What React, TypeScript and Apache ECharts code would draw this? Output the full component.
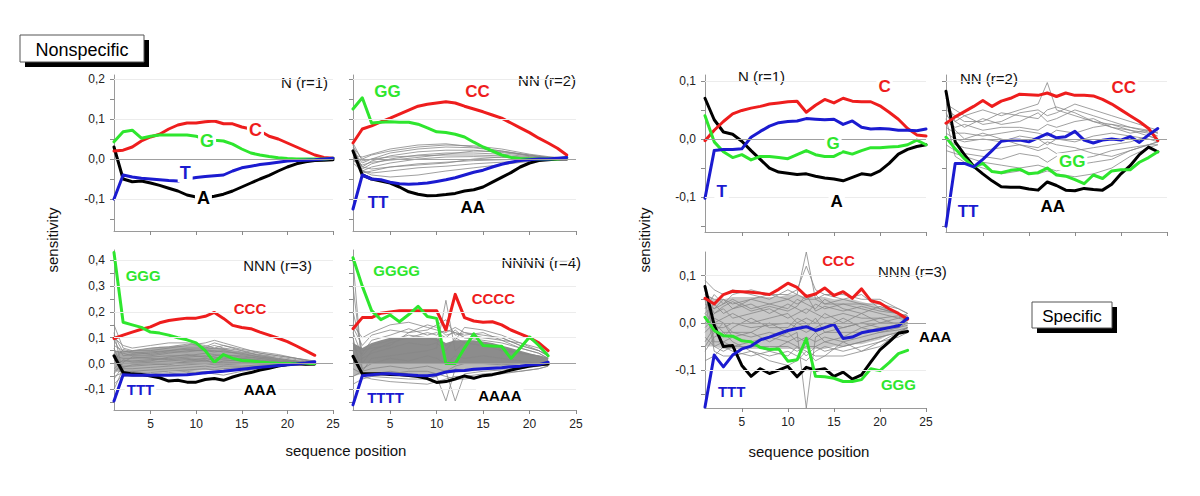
import React, { useEffect, useRef } from 'react';
import * as echarts from 'echarts';

// ---------------- DATA ----------------
// Nonspecific, N (r=1), positions 1..25
const LN_C = [0.02,0.022,0.03,0.045,0.055,0.062,0.075,0.085,0.09,0.09,0.093,0.095,0.088,0.088,0.08,0.075,0.07,0.057,0.05,0.04,0.03,0.02,0.01,0.004,0.002];
const LN_G = [0.043,0.068,0.072,0.052,0.057,0.06,0.06,0.06,0.06,0.057,0.05,0.047,0.045,0.037,0.025,0.015,0.01,0.006,0.003,0.001,0,0,0,0,0.002];
const LN_T = [-0.1,-0.04,-0.045,-0.048,-0.05,-0.052,-0.054,-0.055,-0.05,-0.046,-0.044,-0.042,-0.04,-0.03,-0.022,-0.018,-0.014,-0.011,-0.008,-0.005,-0.004,-0.003,-0.002,0,0.002];
const LN_A = [0.03,-0.05,-0.057,-0.055,-0.06,-0.066,-0.073,-0.08,-0.09,-0.095,-0.097,-0.093,-0.088,-0.08,-0.07,-0.06,-0.05,-0.041,-0.03,-0.02,-0.012,-0.007,-0.004,-0.003,-0.002];

// Nonspecific, NN (r=2), positions 1..24
const LNN_C = [0.04,0.075,0.083,0.093,0.102,0.112,0.122,0.132,0.137,0.14,0.143,0.14,0.132,0.125,0.118,0.11,0.102,0.09,0.078,0.066,0.052,0.04,0.027,0.01];
const LNN_G = [0.125,0.153,0.09,0.092,0.093,0.092,0.092,0.087,0.078,0.068,0.066,0.062,0.055,0.042,0.03,0.02,0.01,0.004,0.001,0,0,0,0,0.003];
const LNN_T = [-0.125,-0.04,-0.05,-0.052,-0.058,-0.062,-0.063,-0.062,-0.06,-0.056,-0.052,-0.047,-0.04,-0.033,-0.028,-0.02,-0.013,-0.008,-0.004,-0.002,0,0,0.002,0.004];
const LNN_A = [0.02,-0.04,-0.05,-0.055,-0.06,-0.07,-0.082,-0.088,-0.092,-0.091,-0.089,-0.086,-0.08,-0.077,-0.07,-0.058,-0.046,-0.034,-0.02,-0.01,-0.004,-0.002,0,0];
const LNN_GRAY_X = [1,2,3,5,8,11,14,17,20,22,24];
const LNN_GRAY = [
  [0.03,0.0,0.01,0.02,0.03,0.035,0.033,0.025,0.012,0.006,0.002],
  [0.02,-0.01,0.0,0.015,0.025,0.03,0.028,0.02,0.01,0.004,0.002],
  [0.01,-0.02,-0.005,0.008,0.018,0.022,0.022,0.016,0.008,0.003,0.001],
  [0.0,-0.025,-0.012,0.0,0.01,0.015,0.015,0.012,0.006,0.002,0.001],
  [0.04,-0.005,0.0,0.005,0.008,0.01,0.01,0.008,0.004,0.002,0],
  [-0.01,-0.03,-0.02,-0.01,0.0,0.005,0.006,0.004,0.002,0.001,0],
  [0.005,-0.035,-0.03,-0.02,-0.012,-0.008,-0.004,-0.002,0,0,0],
  [0.015,-0.03,-0.035,-0.03,-0.022,-0.018,-0.012,-0.008,-0.004,-0.002,0],
  [0.025,-0.02,-0.025,-0.02,-0.015,-0.01,0.0,0.005,0.004,0.002,0],
  [-0.005,-0.015,-0.008,-0.003,0.004,0.012,0.02,0.018,0.01,0.004,0.001],
  [0.035,-0.03,-0.04,-0.045,-0.04,-0.03,-0.022,-0.014,-0.006,-0.003,-0.001],
  [0.01,0.005,0.012,0.025,0.035,0.038,0.03,0.02,0.008,0.004,0.002],
];

// Nonspecific, NNN (r=3), positions 1..23
const LN3_C = [0.097,0.11,0.122,0.133,0.142,0.158,0.167,0.172,0.176,0.176,0.183,0.198,0.175,0.148,0.14,0.135,0.122,0.11,0.098,0.085,0.068,0.05,0.032];
const LN3_G = [0.43,0.16,0.15,0.14,0.122,0.118,0.11,0.1,0.092,0.08,0.05,0.005,0.035,0.02,0.012,0.01,0.006,0.003,0.001,0,0,0,0];
const LN3_T = [-0.145,-0.043,-0.045,-0.045,-0.045,-0.045,-0.045,-0.044,-0.043,-0.04,-0.036,-0.033,-0.03,-0.026,-0.022,-0.018,-0.014,-0.011,-0.008,-0.005,-0.002,0.002,0.007];
const LN3_A = [0.03,-0.035,-0.04,-0.042,-0.048,-0.055,-0.068,-0.065,-0.072,-0.072,-0.062,-0.058,-0.065,-0.052,-0.042,-0.035,-0.025,-0.018,-0.01,-0.004,0,-0.003,-0.002];
const LN3_BAND_UPPER = [0.05,0.05,0.05,0.055,0.06,0.065,0.065,0.07,0.07,0.07,0.065,0.06,0.06,0.05,0.045,0.04,0.035,0.03,0.02,0.015,0.01,0.008,0.005];
const LN3_BAND_LOWER = [-0.03,-0.035,-0.035,-0.035,-0.035,-0.035,-0.03,-0.03,-0.03,-0.028,-0.025,-0.025,-0.022,-0.02,-0.018,-0.015,-0.012,-0.01,-0.008,-0.006,-0.004,-0.003,-0.002];
const LN3_GRAY_X = [1,2,3,5,7,9,11,12,13,15,17,19,21,23];
const LN3_GRAY = [
  [0.15,0.06,0.05,0.05,0.06,0.07,0.08,0.09,0.08,0.06,0.04,0.03,0.02,0.01],
  [0.1,0.07,0.06,0.07,0.08,0.08,0.07,0.06,0.07,0.05,0.04,0.03,0.02,0.005],
  [0.07,0.05,0.04,0.045,0.05,0.06,0.06,0.07,0.06,0.05,0.03,0.02,0.01,0.0],
  [0.05,0.04,0.03,0.03,0.04,0.05,0.05,0.05,0.045,0.04,0.025,0.015,0.01,0.0],
  [0.03,0.02,0.02,0.025,0.03,0.03,0.04,0.035,0.03,0.03,0.02,0.01,0.005,0.0],
  [0.0,0.01,0.01,0.015,0.02,0.025,0.03,0.025,0.02,0.02,0.015,0.01,0.005,-0.005],
  [-0.03,0.0,0.0,0.005,0.01,0.015,0.02,0.015,0.015,0.01,0.01,0.005,0.0,0.0],
  [-0.06,-0.01,-0.01,-0.005,0.0,0.005,0.01,0.005,0.005,0.005,0.005,0.0,0.0,-0.005],
  [-0.1,-0.02,-0.02,-0.015,-0.01,-0.005,0.0,-0.005,-0.005,0.0,0.0,-0.005,-0.005,-0.005],
  [0.06,-0.03,-0.03,-0.025,-0.02,-0.015,-0.01,-0.015,-0.01,-0.01,-0.005,-0.005,0.0,0.0],
  [0.12,-0.04,-0.04,-0.035,-0.03,-0.025,-0.02,-0.025,-0.02,-0.015,-0.01,-0.008,-0.005,0.0],
  [0.02,-0.05,-0.045,-0.045,-0.04,-0.035,-0.03,-0.03,-0.025,-0.02,-0.015,-0.01,-0.005,-0.005],
  [0.09,0.03,0.035,0.04,0.05,0.055,0.05,0.045,0.05,0.035,0.025,0.02,0.01,0.005],
  [-0.02,0.015,0.005,0.01,0.025,0.035,0.025,0.03,0.035,0.025,0.02,0.015,0.005,0.0],
  [0.04,-0.015,-0.005,0.0,-0.005,0.01,0.015,0.0,0.01,0.015,0.008,0.004,0.0,0.0],
  [-0.05,-0.035,-0.03,-0.04,-0.035,-0.03,-0.04,-0.035,-0.03,-0.025,-0.018,-0.012,-0.006,-0.003],
  [0.11,0.045,0.05,0.06,0.065,0.075,0.065,0.08,0.07,0.055,0.045,0.035,0.02,0.008],
  [-0.08,-0.045,-0.05,-0.05,-0.045,-0.04,-0.035,-0.04,-0.045,-0.03,-0.02,-0.01,-0.005,0.0],
  [0.01,0.055,0.045,0.035,0.045,0.045,0.055,0.06,0.055,0.045,0.035,0.025,0.015,0.005],
  [-0.04,0.005,0.025,0.02,0.015,0.02,0.01,0.02,0.025,0.02,0.012,0.008,0.004,0.0],
];

// Nonspecific, NNNN (r=4), positions 1..22
const LN4_C = [0.135,0.178,0.178,0.195,0.2,0.205,0.205,0.205,0.205,0.205,0.13,0.268,0.178,0.165,0.16,0.162,0.15,0.13,0.115,0.1,0.08,0.05];
const LN4_G = [0.41,0.3,0.205,0.17,0.188,0.162,0.19,0.222,0.182,0.175,0.0,0.0,0.06,0.115,0.07,0.068,0.067,0.02,0.06,0.103,0.07,0.03];
const LN4_T = [-0.16,-0.047,-0.043,-0.04,-0.04,-0.042,-0.044,-0.046,-0.047,-0.043,-0.033,-0.028,-0.027,-0.022,-0.02,-0.018,-0.016,-0.012,-0.01,-0.006,-0.004,0.005];
const LN4_A = [0.028,-0.04,-0.04,-0.04,-0.042,-0.043,-0.046,-0.05,-0.058,-0.073,-0.07,-0.06,-0.048,-0.057,-0.047,-0.043,-0.035,-0.025,-0.017,-0.01,-0.005,-0.002];
const LN4_BAND_UPPER = [0.08,0.06,0.08,0.09,0.1,0.1,0.1,0.1,0.1,0.1,0.08,0.09,0.09,0.09,0.085,0.08,0.07,0.06,0.05,0.04,0.03,0.02];
const LN4_BAND_LOWER = [-0.05,-0.04,-0.04,-0.04,-0.04,-0.04,-0.042,-0.044,-0.045,-0.045,-0.04,-0.035,-0.03,-0.03,-0.025,-0.022,-0.02,-0.018,-0.015,-0.012,-0.01,-0.008];
const LN4_GRAY_X = [1,2,3,5,7,9,10,11,12,13,15,17,19,21,22];
const LN4_GRAY = [
  [0.40,-0.03,0.02,0.03,0.04,0.05,0.06,0.245,0.05,0.08,0.07,0.06,0.04,0.03,0.02],
  [0.30,0.0,0.05,0.08,0.1,0.12,0.11,0.13,0.12,0.1,0.09,0.08,0.06,0.04,0.02],
  [0.15,0.1,0.12,0.15,0.16,0.14,0.13,0.12,0.14,0.12,0.11,0.1,0.07,0.05,0.03],
  [0.05,-0.05,-0.04,-0.03,-0.04,-0.05,-0.05,-0.145,-0.02,-0.03,-0.02,-0.02,-0.01,-0.01,0],
  [-0.02,-0.04,-0.05,-0.055,-0.06,-0.06,-0.05,-0.03,-0.145,-0.04,-0.03,-0.025,-0.02,-0.01,-0.005],
  [0.1,-0.05,-0.06,-0.07,-0.075,-0.08,-0.07,-0.06,-0.05,-0.05,-0.04,-0.035,-0.03,-0.02,-0.01],
  [0.2,0.05,0.06,0.07,0.12,0.13,0.15,0.17,0.11,0.12,0.1,0.09,0.06,0.04,0.02],
  [-0.08,-0.06,-0.05,-0.04,-0.03,-0.03,-0.04,-0.05,-0.06,-0.06,-0.05,-0.04,-0.03,-0.02,-0.01],
  [0.12,0.03,0.07,0.09,0.11,0.1,0.09,0.07,0.09,0.14,0.13,0.11,0.08,0.05,0.03],
  [0.0,0.02,0.04,0.06,0.08,0.07,0.08,0.05,0.1,0.08,0.07,0.05,0.04,0.03,0.02],
  [0.08,-0.02,0.0,0.02,0.01,0.03,0.02,0.0,0.03,0.02,0.03,0.02,0.01,0.0,0.0],
  [-0.05,-0.03,-0.02,-0.01,-0.02,-0.01,-0.02,-0.03,-0.01,0.0,0.0,-0.005,0.0,0.0,0.0],
  [0.14,0.07,0.11,0.13,0.12,0.15,0.14,0.11,0.12,0.11,0.12,0.09,0.08,0.06,0.04],
  [0.06,0.04,0.09,0.11,0.135,0.11,0.12,0.1,0.13,0.1,0.1,0.1,0.07,0.05,0.03],
];

// Specific, N (r=1), positions 1..25
const RN_C = [-0.003,0.015,0.03,0.043,0.049,0.053,0.056,0.06,0.062,0.064,0.065,0.046,0.058,0.068,0.062,0.07,0.065,0.064,0.064,0.057,0.046,0.034,0.018,0.007,0.005];
const RN_T = [-0.102,-0.02,-0.018,-0.018,-0.017,0.003,0.013,0.022,0.028,0.03,0.031,0.035,0.034,0.033,0.034,0.025,0.031,0.02,0.017,0.018,0.017,0.015,0.015,0.014,0.017];
const RN_G = [0.04,-0.005,-0.022,-0.032,-0.027,-0.036,-0.03,-0.03,-0.032,-0.034,-0.027,-0.02,-0.027,-0.03,-0.03,-0.022,-0.026,-0.02,-0.015,-0.015,-0.014,-0.013,-0.01,-0.002,-0.01];
const RN_A = [0.07,0.033,0.012,0.008,-0.004,-0.02,-0.035,-0.05,-0.057,-0.059,-0.061,-0.06,-0.064,-0.067,-0.069,-0.072,-0.066,-0.06,-0.062,-0.055,-0.042,-0.026,-0.018,-0.013,-0.01];

// Specific, NN (r=2), positions 1..24
const RNN_C = [0.027,0.038,0.047,0.056,0.066,0.056,0.065,0.07,0.077,0.076,0.075,0.079,0.073,0.079,0.075,0.075,0.074,0.068,0.06,0.05,0.04,0.03,0.018,-0.003];
const RNN_T = [-0.15,-0.042,-0.042,-0.048,-0.035,-0.02,-0.004,-0.002,-0.002,-0.005,0.002,0.009,0.002,0.004,0.013,-0.002,-0.007,-0.002,0,-0.002,0.004,-0.006,0.007,0.018];
const RNN_G = [0.003,-0.017,-0.034,-0.048,-0.042,-0.056,-0.058,-0.054,-0.052,-0.06,-0.058,-0.05,-0.062,-0.064,-0.07,-0.077,-0.062,-0.068,-0.055,-0.053,-0.053,-0.04,-0.032,-0.022];
const RNN_A = [0.082,-0.005,-0.027,-0.047,-0.06,-0.072,-0.082,-0.083,-0.083,-0.086,-0.088,-0.074,-0.08,-0.088,-0.089,-0.085,-0.087,-0.088,-0.078,-0.06,-0.046,-0.027,-0.014,-0.022];
const RNN_GRAY_X = [1,2,3,5,7,9,11,12,13,15,17,19,21,23,24];
const RNN_GRAY = [
  [0.06,0.05,0.04,0.05,0.04,0.05,0.06,0.097,0.05,0.04,0.03,0.025,0.02,0.015,0.01],
  [0.05,0.04,0.03,0.03,0.045,0.04,0.035,0.05,0.055,0.045,0.03,0.02,0.015,0.01,0.012],
  [0.04,0.03,0.02,0.035,0.025,0.03,0.045,0.03,0.035,0.05,0.04,0.03,0.02,0.012,0.005],
  [0.03,0.02,0.025,0.015,0.02,0.02,0.015,0.025,0.02,0.03,0.035,0.02,0.01,0.015,0.01],
  [0.02,0.01,0.01,0.005,0.01,0.015,0.01,0.005,0.015,0.01,0.02,0.025,0.015,0.005,0.0],
  [0.01,0.0,-0.005,0.0,-0.005,0.005,0.0,-0.01,0.0,-0.005,0.005,0.01,0.005,0.0,-0.005],
  [0.0,-0.01,-0.015,-0.02,-0.015,-0.01,-0.02,-0.015,-0.025,-0.02,-0.015,-0.01,-0.005,0.005,0.0],
  [-0.01,-0.02,-0.025,-0.03,-0.035,-0.025,-0.03,-0.04,-0.03,-0.035,-0.03,-0.02,-0.015,-0.01,-0.005],
  [-0.02,-0.025,-0.03,-0.04,-0.045,-0.05,-0.045,-0.05,-0.055,-0.045,-0.04,-0.035,-0.02,-0.01,-0.01],
  [0.07,0.03,0.04,0.025,0.03,0.045,0.05,0.04,0.045,0.06,0.05,0.04,0.03,0.02,0.015],
  [0.045,0.015,0.0,0.01,0.0,-0.01,-0.015,-0.005,-0.01,-0.015,-0.025,-0.03,-0.02,-0.01,-0.005],
  [0.035,-0.03,-0.04,-0.05,-0.06,-0.055,-0.06,-0.055,-0.06,-0.065,-0.06,-0.05,-0.03,-0.015,-0.01],
];

// Specific, NNN (r=3), positions 1..23
const RN3_C = [0.052,0.04,0.06,0.067,0.066,0.065,0.063,0.06,0.071,0.084,0.075,0.056,0.061,0.074,0.058,0.066,0.052,0.072,0.047,0.042,0.03,0.02,0.008];
const RN3_T = [-0.178,-0.068,-0.093,-0.068,-0.055,-0.049,-0.036,-0.03,-0.023,-0.016,-0.012,-0.008,-0.016,-0.01,-0.003,-0.033,-0.03,-0.021,-0.017,-0.014,-0.01,-0.006,0.01];
const RN3_A = [0.077,-0.005,-0.05,-0.048,-0.09,-0.113,-0.097,-0.107,-0.1,-0.092,-0.114,-0.094,-0.1,-0.097,-0.113,-0.104,-0.119,-0.11,-0.083,-0.057,-0.04,-0.022,-0.018];
const RN3_G = [0.012,-0.016,-0.027,-0.028,-0.038,-0.04,-0.052,-0.056,-0.055,-0.081,-0.078,-0.033,-0.113,-0.114,-0.117,-0.124,-0.124,-0.12,-0.097,-0.101,-0.084,-0.065,-0.058];
const RN3_BAND_UPPER = [0.06,0.05,0.05,0.055,0.055,0.055,0.055,0.055,0.055,0.06,0.06,0.055,0.055,0.055,0.05,0.05,0.05,0.045,0.04,0.035,0.03,0.02,0.015];
const RN3_BAND_LOWER = [-0.05,-0.05,-0.055,-0.055,-0.055,-0.055,-0.055,-0.055,-0.055,-0.055,-0.055,-0.055,-0.055,-0.055,-0.05,-0.05,-0.045,-0.045,-0.04,-0.035,-0.025,-0.02,-0.015];
const RN3_GRAY_X = [1,2,3,4,6,8,10,11,12,13,14,16,18,20,22,23];
const RN3_GRAY = [
  [0.09,0.07,0.06,0.07,0.06,0.05,0.07,0.06,0.15,0.05,0.06,0.05,0.04,0.04,0.03,0.02],
  [0.06,0.05,0.05,0.04,0.05,0.06,0.05,0.04,0.05,0.06,0.04,0.05,0.06,0.03,0.02,0.015],
  [0.04,0.03,0.04,0.05,0.03,0.04,0.03,0.05,0.04,0.03,0.05,0.03,0.02,0.035,0.02,0.01],
  [0.02,0.04,0.02,0.03,0.04,0.02,0.04,0.03,0.02,0.04,0.03,0.04,0.03,0.02,0.01,0.02],
  [0.0,0.02,0.03,0.01,0.02,0.03,0.01,0.02,0.03,0.02,0.01,0.02,0.01,0.01,0.015,0.005],
  [-0.02,0.0,0.01,0.02,0.0,0.01,0.02,0.0,0.01,0.0,0.02,0.0,0.02,0.0,0.0,0.0],
  [-0.04,-0.01,-0.01,0.0,-0.01,-0.005,0.0,-0.01,-0.02,-0.01,0.0,-0.01,0.0,-0.01,-0.005,0.0],
  [-0.06,-0.03,-0.02,-0.02,-0.03,-0.02,-0.03,-0.02,-0.18,-0.03,-0.02,-0.02,-0.02,-0.01,-0.01,-0.005],
  [0.07,-0.04,-0.04,-0.03,-0.02,-0.04,-0.02,-0.04,-0.03,-0.04,-0.03,-0.04,-0.03,-0.02,-0.015,-0.01],
  [0.08,-0.05,-0.06,-0.05,-0.05,-0.05,-0.05,-0.06,-0.05,-0.05,-0.06,-0.05,-0.04,-0.03,-0.02,-0.01],
  [0.05,-0.06,-0.07,-0.07,-0.06,-0.07,-0.06,-0.07,-0.08,-0.06,-0.05,-0.06,-0.05,-0.04,-0.03,-0.02],
  [-0.08,-0.07,-0.05,-0.06,-0.07,-0.06,-0.07,-0.05,-0.06,-0.07,-0.07,-0.04,-0.06,-0.05,-0.02,-0.015],
  [0.03,0.06,0.04,0.06,0.07,0.06,0.06,0.07,0.12,0.07,0.06,0.06,0.05,0.05,0.03,0.02],
  [0.01,-0.02,-0.03,-0.01,0.01,-0.01,-0.01,0.01,0.0,-0.02,-0.01,0.01,-0.01,0.0,0.01,0.005],
  [-0.01,0.01,0.0,-0.03,-0.04,-0.03,-0.04,-0.03,-0.04,-0.02,-0.04,-0.03,-0.01,-0.02,-0.01,0.0],
  [0.05,0.03,0.05,0.03,0.05,0.04,0.05,0.06,0.05,0.05,0.04,0.04,0.04,0.03,0.02,0.01],
  [-0.03,-0.05,-0.04,-0.05,-0.04,-0.06,-0.04,-0.05,-0.07,-0.05,-0.04,-0.05,-0.04,-0.03,-0.02,-0.01],
  [0.02,0.0,-0.02,-0.04,-0.06,-0.08,-0.09,-0.08,-0.06,-0.08,-0.07,-0.07,-0.06,-0.04,-0.02,-0.01],
  [0.06,0.02,0.035,0.045,0.025,0.035,0.025,0.035,0.06,0.025,0.035,0.025,0.035,0.025,0.02,0.01],
  [-0.05,-0.02,0.0,-0.02,-0.02,0.0,-0.02,0.0,-0.01,0.01,-0.02,-0.01,0.0,0.01,-0.005,0.005],
];

// curve labels: [text, position, sensitivity]
const LBL_LN: [string, number, number][] = [['C',16.5,0.072],['G',11.2,0.045],['T',8.8,-0.035],['A',10.8,-0.097]];
const LBL_LNN: [string, number, number][] = [['GG',4.7,0.17],['CC',14.4,0.168],['TT',3.7,-0.108],['AA',13.9,-0.12]];
const LBL_LN3: [string, number, number][] = [['GGG',4.2,0.34],['CCC',15.9,0.215],['TTT',3.9,-0.1],['AAA',17,-0.1]];
const LBL_LN4: [string, number, number][] = [['GGGG',5.7,0.36],['CCCC',16.1,0.254],['TTTT',4.5,-0.132],['AAAA',16.8,-0.125]];
const LBL_RN: [string, number, number][] = [['C',20.5,0.09],['G',14.9,-0.007],['T',2.8,-0.09],['A',15.3,-0.108]];
const LBL_RNN: [string, number, number][] = [['CC',20.3,0.088],['GG',14.7,-0.039],['TT',3.4,-0.125],['AA',12.6,-0.117]];
const LBL_RN3: [string, number, number][] = [['CCC',15.5,0.133],['AAA',26.0,-0.029],['GGG',22,-0.13],['TTT',3.9,-0.146]];

// ticks
const X_TICKS = [5,10,15,20,25];
const Y_TICKS_A = [-0.15,-0.1,-0.05,0,0.05,0.1,0.15,0.2];
const Y_LABELS_A = [-0.1,0,0.1,0.2];
const Y_TICKS_B = [-0.15,-0.1,-0.05,0,0.05,0.1,0.15,0.2,0.25,0.3,0.35,0.4];
const Y_LABELS_B = [-0.1,0,0.1,0.2,0.3,0.4];
const Y_TICKS_C = [-0.15,-0.1,-0.05,0,0.05,0.1];
const Y_LABELS_C = [-0.1,0,0.1];
const Y_TICKS_D = [-0.15,-0.1,-0.05,0,0.05,0.1];
const Y_LABELS_D = [-0.1,0,0.1];

const TITLES = ['N (r=1)','NN (r=2)','NNN (r=3)','NNNN (r=4)','N (r=1)','NN (r=2)','NNN (r=3)'];

// ---------------- STYLE / LAYOUT ----------------
const FONT = "'Liberation Sans', Arial, Helvetica, sans-serif";
const COLORS: Record<string, string> = { C: '#ee1d1d', G: '#2ee62e', T: '#1b1bd0', A: '#000000' };

type Panel = {
  grid: { left: number; top: number; width: number; height: number };
  ymin: number; ymax: number;
  yTicks: number[]; yLabels: number[]; showY: boolean; showX: boolean;
  lines: Record<string, number[]>;
  gray?: { xs: number[]; lines: number[][] };
  band?: { upper: number[]; lower: number[]; upperColor: string; lowerColor: string };
  labels: [string, number, number][];
  labelSize: number;
  title: { text: string; x: number; y: number; align: string };
};

const PANELS: Panel[] = [
  { grid: { left: 114, top: 75, width: 219, height: 156 }, ymin: -0.18, ymax: 0.21, yTicks: Y_TICKS_A, yLabels: Y_LABELS_A, showY: true, showX: false,
    lines: { A: LN_A, C: LN_C, G: LN_G, T: LN_T }, labels: LBL_LN, labelSize: 18, title: { text: TITLES[0], x: 328, y: 82, align: 'right' } },
  { grid: { left: 353, top: 75, width: 223, height: 156 }, ymin: -0.18, ymax: 0.21, yTicks: Y_TICKS_A, yLabels: Y_LABELS_A, showY: false, showX: false,
    lines: { A: LNN_A, C: LNN_C, G: LNN_G, T: LNN_T }, gray: { xs: LNN_GRAY_X, lines: LNN_GRAY }, labels: LBL_LNN, labelSize: 17, title: { text: TITLES[1], x: 576, y: 80, align: 'right' } },
  { grid: { left: 114, top: 250, width: 219, height: 160 }, ymin: -0.18, ymax: 0.44, yTicks: Y_TICKS_B, yLabels: Y_LABELS_B, showY: true, showX: true,
    lines: { A: LN3_A, C: LN3_C, G: LN3_G, T: LN3_T }, gray: { xs: LN3_GRAY_X, lines: LN3_GRAY },
    band: { upper: LN3_BAND_UPPER, lower: LN3_BAND_LOWER, upperColor: '#a9a9a9', lowerColor: '#b3b3b3' },
    labels: LBL_LN3, labelSize: 15, title: { text: TITLES[2], x: 312, y: 265, align: 'right' } },
  { grid: { left: 353, top: 250, width: 223, height: 160 }, ymin: -0.18, ymax: 0.44, yTicks: Y_TICKS_B, yLabels: Y_LABELS_B, showY: false, showX: true,
    lines: { A: LN4_A, C: LN4_C, G: LN4_G, T: LN4_T }, gray: { xs: LN4_GRAY_X, lines: LN4_GRAY },
    band: { upper: LN4_BAND_UPPER, lower: LN4_BAND_LOWER, upperColor: '#8c8c8c', lowerColor: '#b8b8b8' },
    labels: LBL_LN4, labelSize: 15, title: { text: TITLES[3], x: 581, y: 262, align: 'right' } },
  { grid: { left: 705, top: 75, width: 221, height: 157 }, ymin: -0.16, ymax: 0.11, yTicks: Y_TICKS_C, yLabels: Y_LABELS_C, showY: true, showX: false,
    lines: { A: RN_A, C: RN_C, G: RN_G, T: RN_T }, labels: LBL_RN, labelSize: 17, title: { text: TITLES[4], x: 738, y: 76, align: 'left' } },
  { grid: { left: 946, top: 75, width: 221, height: 157 }, ymin: -0.16, ymax: 0.11, yTicks: Y_TICKS_C, yLabels: Y_LABELS_C, showY: false, showX: false,
    lines: { A: RNN_A, C: RNN_C, G: RNN_G, T: RNN_T }, gray: { xs: RNN_GRAY_X, lines: RNN_GRAY }, labels: LBL_RNN, labelSize: 17, title: { text: TITLES[5], x: 960, y: 78, align: 'left' } },
  { grid: { left: 705, top: 252, width: 221, height: 156 }, ymin: -0.18, ymax: 0.15, yTicks: Y_TICKS_D, yLabels: Y_LABELS_D, showY: true, showX: true,
    lines: { A: RN3_A, C: RN3_C, G: RN3_G, T: RN3_T }, gray: { xs: RN3_GRAY_X, lines: RN3_GRAY },
    band: { upper: RN3_BAND_UPPER, lower: RN3_BAND_LOWER, upperColor: '#c8c8c8', lowerColor: '#c8c8c8' },
    labels: LBL_RN3, labelSize: 15, title: { text: TITLES[6], x: 878, y: 271, align: 'left' } },
];

const fmt = (v: number) => (Math.abs(v) < 1e-9 ? 0 : v).toFixed(1).replace('.', ',');

function buildOption() {
  const series: any[] = [];
  PANELS.forEach((p, i) => {
    const base = { xAxisIndex: i, yAxisIndex: i, silent: true, animation: false };
    const refLines = {
      silent: true, symbol: 'none', label: { show: false },
      data: p.yLabels.map((v) => ({
        yAxis: v,
        lineStyle: Math.abs(v) < 1e-9 ? { color: '#a0a0a0', width: 1, type: 'solid' } : { color: '#ececec', width: 1, type: 'solid' },
      })),
    };
    let refUsed = false;
    const withRef = (s: any) => {
      if (!refUsed) { s.markLine = refLines; refUsed = true; }
      return s;
    };
    if (p.band) {
      const b = p.band;
      [[b.upper, b.upperColor], [b.lower, b.lowerColor]].forEach(([arr, col]: any) => {
        series.push(withRef({ ...base, type: 'line', z: 1, symbol: 'none',
          data: (arr as number[]).map((y, k) => [k + 1, y]),
          lineStyle: { width: 0, color: col }, areaStyle: { color: col, opacity: 1 } }));
      });
    }
    if (p.gray) {
      p.gray.lines.forEach((ys) => {
        series.push(withRef({ ...base, type: 'line', z: 2, symbol: 'none',
          data: p.gray!.xs.map((x, k) => [x, ys[k]]),
          lineStyle: { color: '#888888', width: 0.8 } }));
      });
    }
    ['A', 'C', 'G', 'T'].forEach((k) => {
      series.push(withRef({ ...base, type: 'line', z: 3, symbol: 'none',
        data: p.lines[k].map((y, j) => [j + 1, y]),
        lineStyle: { color: COLORS[k], width: 3, join: 'round', cap: 'round' } }));
    });
    series.push({ ...base, type: 'scatter', z: 6, clip: false, symbol: 'circle', symbolSize: 1,
      itemStyle: { color: 'rgba(255,255,255,0)', opacity: 1 },
      label: { show: true, position: 'inside', formatter: '{b}', fontFamily: FONT, fontWeight: 'bold',
        fontSize: p.labelSize, backgroundColor: '#ffffff', padding: [0, 2], opacity: 1, textBorderWidth: 0 },
      data: p.labels.map(([t, x, y]) => ({ name: t, value: [x, y], label: { color: COLORS[t[0]] } })) });
  });

  const graphic: any[] = [];
  PANELS.forEach((p) => {
    graphic.push({ type: 'text', x: p.title.x, y: p.title.y, silent: true,
      style: { text: p.title.text, fontFamily: FONT, fontSize: 15, fill: '#111', align: p.title.align, verticalAlign: 'middle' } });
  });
  graphic.push({ type: 'text', x: 346, y: 450, style: { text: 'sequence position', fontFamily: FONT, fontSize: 15, fill: '#111', align: 'center', verticalAlign: 'middle' } });
  graphic.push({ type: 'text', x: 809, y: 451, style: { text: 'sequence position', fontFamily: FONT, fontSize: 15, fill: '#111', align: 'center', verticalAlign: 'middle' } });
  graphic.push({ type: 'text', x: 52, y: 240, rotation: Math.PI / 2, style: { text: 'sensitivity', fontFamily: FONT, fontSize: 15, fill: '#111', align: 'center', verticalAlign: 'middle' } });
  graphic.push({ type: 'text', x: 644, y: 240, rotation: Math.PI / 2, style: { text: 'sensitivity', fontFamily: FONT, fontSize: 15, fill: '#111', align: 'center', verticalAlign: 'middle' } });
  const box = (x: number, y: number, w: number, h: number, text: string, size: number) => {
    graphic.push({ type: 'rect', shape: { x: x + 5, y: y + 5, width: w, height: h }, style: { fill: '#000' } });
    graphic.push({ type: 'rect', shape: { x, y, width: w, height: h }, style: { fill: '#fff', stroke: '#555', lineWidth: 1 } });
    graphic.push({ type: 'text', x: x + w / 2, y: y + h / 2 + 1, style: { text, fontFamily: FONT, fontSize: size, fill: '#000', align: 'center', verticalAlign: 'middle' } });
  };
  box(20, 35, 124, 27, 'Nonspecific', 18);
  box(1032, 302, 80, 26, 'Specific', 17);

  return {
    animation: false,
    backgroundColor: '#ffffff',
    grid: PANELS.map((p) => ({ ...p.grid, containLabel: false })),
    xAxis: PANELS.map((p, i) => ({
      gridIndex: i, type: 'value', min: 1, max: 25,
      axisLine: { show: true, onZero: false, lineStyle: { color: '#9a9a9a', width: 1 } },
      axisTick: { show: true, customValues: X_TICKS, length: 4, lineStyle: { color: '#8a8a8a' } },
      axisLabel: { show: p.showX, customValues: X_TICKS, fontFamily: FONT, fontSize: 12, color: '#222', margin: 8 },
      splitLine: { show: false },
    })),
    yAxis: PANELS.map((p, i) => ({
      gridIndex: i, type: 'value', min: p.ymin, max: p.ymax,
      axisLine: { show: true, onZero: false, lineStyle: { color: '#9a9a9a', width: 1 } },
      axisTick: { show: true, customValues: p.yTicks, length: 4, lineStyle: { color: '#8a8a8a' } },
      axisLabel: { show: p.showY, customValues: p.yLabels, formatter: fmt, fontFamily: FONT, fontSize: 12, color: '#222', margin: 9 },
      splitLine: { show: false },
    })),
    series,
    graphic,
  };
}

export default function App() {
  const ref = useRef<HTMLDivElement>(null);
  useEffect(() => {
    if (!ref.current) return;
    const chart = echarts.init(ref.current, undefined, { renderer: 'svg' });
    chart.setOption(buildOption() as any);
    return () => chart.dispose();
  }, []);
  return <div ref={ref} style={{ position: 'absolute', left: 0, top: 0, width: 1200, height: 496, background: '#fff' }} />;
}
